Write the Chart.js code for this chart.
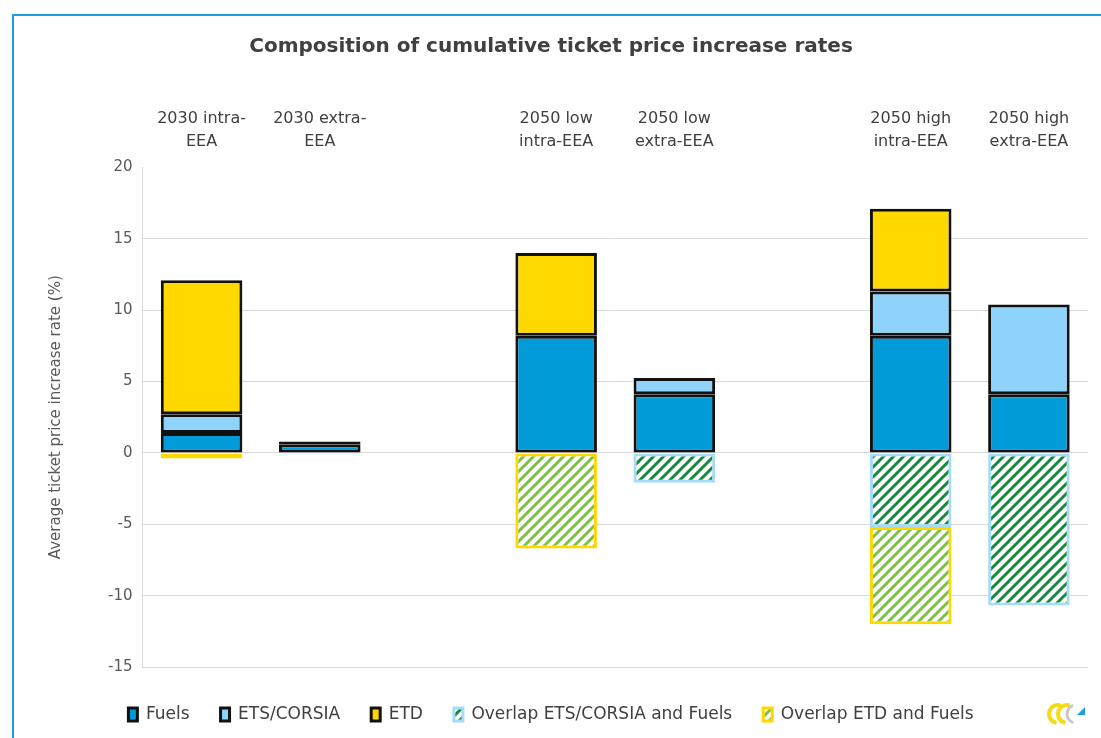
<!DOCTYPE html>
<html>
<head>
<meta charset="utf-8">
<script src="https://cdn.jsdelivr.net/npm/chart.js@4"></script>
<style>
  body { margin: 0; background: #fff; }
  #frame {
    position: absolute; left: 12px; top: 14px;
    width: 1089px; height: 724px;
    border-left: 2px solid #1aa0dc; border-top: 2px solid #1aa0dc;
  }
</style>
</head>
<body>
<div id="frame"><canvas id="myChart" width="1087" height="722"></canvas></div>
<script>
var categories = [
  ["2030 intra-", "EEA"], ["2030 extra-", "EEA"], "",
  ["2050 low", "intra-EEA"], ["2050 low", "extra-EEA"], "",
  ["2050 high", "intra-EEA"], ["2050 high", "extra-EEA"]
];
var fuels      = [1.4, 0.6, null, 8.2, 4.1, null, 8.2, 4.1];
var etsCorsia  = [1.3, 0.1, null, null, 1.15, null, 3.1, 6.3];
var etd        = [9.4, 0.1, null, 5.8, null, null, 5.8, null];
var overlapEts = [null, -0.1, null, null, -2.1, null, -5.2, -10.7];
var overlapEtd = [-0.4, null, null, -6.7, null, null, -6.8, null];
var yTicks = [-15, -10, -5, 0, 5, 10, 15, 20];

function hatch(color) {
  var c = document.createElement('canvas');
  c.width = 10; c.height = 10;
  var g = c.getContext('2d');
  g.fillStyle = '#fff';
  g.fillRect(0, 0, 10, 10);
  g.strokeStyle = color;
  g.lineWidth = 3;
  g.beginPath();
  g.moveTo(-2, 12); g.lineTo(12, -2);
  g.moveTo(-7, 7); g.lineTo(7, -7);
  g.moveTo(3, 17); g.lineTo(17, 3);
  g.stroke();
  return g.createPattern(c, 'repeat');
}

// small logo in the bottom right corner
var logo = {
  id: 'logo',
  afterDraw: function(chart) {
    var g = chart.ctx;
    var x = chart.chartArea.right - 30, y = chart.height - 24;
    g.save();
    g.lineWidth = 4;
    g.strokeStyle = '#f2dc1a';
    g.beginPath(); g.arc(x, y, 9, Math.PI * 0.55, Math.PI * 1.6); g.stroke();
    g.beginPath(); g.arc(x + 9, y, 9, Math.PI * 0.55, Math.PI * 1.6); g.stroke();
    g.strokeStyle = '#c8c8c8';
    g.lineWidth = 3;
    g.beginPath(); g.arc(x + 18, y, 9, Math.PI * 0.6, Math.PI * 1.4); g.stroke();
    g.fillStyle = '#1aa0dc';
    g.beginPath(); g.moveTo(x + 27, y - 7); g.lineTo(x + 27, y + 1); g.lineTo(x + 19, y + 1); g.closePath(); g.fill();
    g.restore();
  }
};

var ctx = document.getElementById('myChart').getContext('2d');
var font = "'DejaVu Sans', sans-serif";

var config = {
  type: 'bar',
  data: {
    labels: categories,
    datasets: [
      { label: 'Fuels', data: fuels, backgroundColor: '#009bd8', borderColor: '#111', borderWidth: 3 },
      { label: 'ETS/CORSIA', data: etsCorsia, backgroundColor: '#8fd3fb', borderColor: '#111', borderWidth: 3 },
      { label: 'ETD', data: etd, backgroundColor: '#ffd800', borderColor: '#111', borderWidth: 3 },
      { label: 'Overlap ETS/CORSIA and Fuels', data: overlapEts, backgroundColor: hatch('#138a3c'), borderColor: '#a6dcf8', borderWidth: 3 },
      { label: 'Overlap ETD and Fuels', data: overlapEtd, backgroundColor: hatch('#7cc242'), borderColor: '#ffd800', borderWidth: 3 }
    ]
  },
  options: {
    responsive: false,
    animation: false,
    categoryPercentage: 1,
    barPercentage: 0.69,
    borderSkipped: false,
    layout: { padding: { left: 0, right: 13, top: 7, bottom: 5 } },
    plugins: {
      title: {
        display: true,
        text: 'Composition of cumulative ticket price increase rates',
        color: '#404040',
        font: { family: font, size: 20, weight: 'bold', lineHeight: 1.2 },
        padding: { top: 12, bottom: 34 }
      },
      legend: {
        position: 'bottom',
        labels: {
          color: '#404040',
          font: { family: font, size: 17 },
          boxWidth: 9,
          boxHeight: 13,
          padding: 31
        }
      },
      tooltip: { enabled: false }
    },
    scales: {
      x: {
        stacked: true,
        position: 'top',
        grid: { display: false, drawTicks: false },
        border: { display: false },
        ticks: { color: '#404040', font: { family: font, size: 16, lineHeight: 1.45 }, maxRotation: 0, autoSkip: false, padding: 14 }
      },
      x2: {
        position: 'bottom',
        labels: categories,
        grid: { display: false, drawTicks: false },
        border: { display: false },
        ticks: { display: false },
        afterFit: function(s) { s.height = 8; }
      },
      y: {
        stacked: true,
        min: yTicks[0],
        max: yTicks[yTicks.length - 1],
        ticks: { stepSize: 5, color: '#595959', font: { family: font, size: 15 }, padding: 10 },
        grid: {
          color: function(c) { return c.tick && c.tick.value === 20 ? 'rgba(0,0,0,0)' : '#d9d9d9'; },
          drawTicks: false
        },
        border: { display: true, color: '#d9d9d9' },
        title: {
          display: true,
          text: 'Average ticket price increase rate (%)',
          color: '#595959',
          font: { family: font, size: 15 },
          padding: { top: 33, bottom: 33 }
        }
      }
    }
  },
  plugins: [logo]
};

var chart = new Chart(ctx, config);
</script>
</body>
</html>
